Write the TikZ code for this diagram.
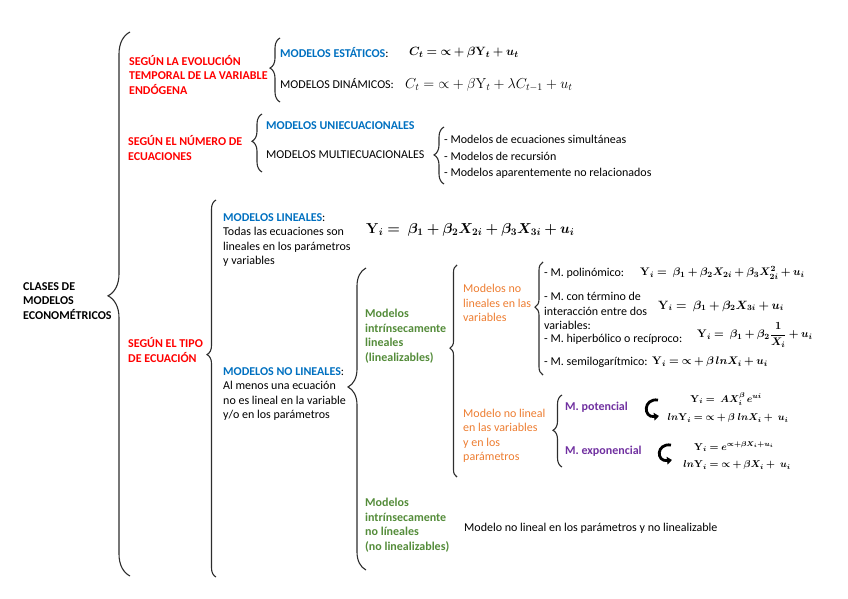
\documentclass[tikz,border=0pt]{standalone}
\usepackage{amsmath,amssymb,bm}
\usepackage[no-math]{fontspec}
\setmainfont{Carlito}
\usetikzlibrary{decorations.pathreplacing,arrows.meta}
\definecolor{critred}{RGB}{255,0,0}
\definecolor{headblue}{RGB}{0,112,192}
\definecolor{subgreen}{RGB}{84,140,58}
\definecolor{varorange}{RGB}{237,125,49}
\definecolor{funpurple}{RGB}{112,48,160}
\definecolor{bracegray}{RGB}{45,45,45}
\newcommand{\txtsize}{\fontsize{12}{14.5}\selectfont}

\begin{document}
\begin{tikzpicture}[
      x=1pt,y=-1pt,
      every node/.style={inner sep=0pt,anchor=west,align=left,font=\txtsize},
      crit/.style={text=critred,font=\txtsize\bfseries},
      head/.style={text=headblue,font=\txtsize\bfseries},
      sub/.style={text=subgreen,font=\txtsize\bfseries},
      var/.style={text=varorange,font=\txtsize},
      fun/.style={text=funpurple,font=\txtsize\bfseries},
      eqn/.style={font=\fontsize{11}{13}\selectfont},
      bigeq/.style={font=\fontsize{13}{15}\selectfont},
      smalleq/.style={anchor=center,font=\fontsize{10}{11}\selectfont},
      brc/.style 2 args={decorate,decoration={brace,amplitude=#1pt,aspect=#2},
                         draw=bracegray,line width=1.1pt},
      curv/.style={line width=2.8pt,-{Triangle[length=5pt,width=7.5pt]}}
  ]
    \useasboundingbox (0,0) rectangle (848,599);

    % root and criteria
    \node[font=\txtsize\bfseries] (root) at (23,301) {CLASES DE\\MODELOS\\ECONOMÉTRICOS};
    \draw[brc={22}{0.515}] (130,576) -- (130,32);

    \node[crit] (evo) at (129,75) {SEGÚN LA EVOLUCIÓN\\TEMPORAL DE LA VARIABLE\\ENDÓGENA};
    \node[crit] (neq) at (128,148) {SEGÚN EL NÚMERO DE\\ECUACIONES};
    \node[crit] (tipo) at (128,350) {SEGÚN EL TIPO\\DE ECUACIÓN};

    % evolucion temporal
    \draw[brc={10}{0.53}] (280,102) -- (280,38);
    \node[head] (est) at (280,53) {MODELOS ESTÁTICOS{\normalfont\color{black}:}};
    \node[bigeq] (esteq) at (409,53) {$\bm{C_t={\propto}+\beta\mathbf{Y}_t+u_t}$};
    \node (din) at (280,84) {MODELOS DINÁMICOS:};
    \node[font=\fontsize{14.3}{16}\selectfont] (dineq) at (405,85) {$C_t={\propto}+\beta\mathrm{Y}_t+\lambda C_{t-1}+u_t$};

    % numero de ecuaciones
    \draw[brc={10}{0.53}] (262,172) -- (262,114);
    \node[head] (uni) at (266,126) {MODELOS UNIECUACIONALES};
    \node (multi) at (266,155) {MODELOS MULTIECUACIONALES};
    \draw[brc={10}{0.51}] (444,184) -- (444,127);
    \node (sim) at (444,139) {- Modelos de ecuaciones simultáneas};
    \node (rec) at (444,156) {- Modelos de recursión};
    \node (apar) at (444,173) {- Modelos aparentemente no relacionados};

    % tipo de ecuacion
    \draw[brc={9}{0.59}] (216,577) -- (216,200);
    \node (lin) at (223,240) {\textcolor{headblue}{\bfseries MODELOS LINEALES}:\\Todas las ecuaciones son\\lineales en los parámetros\\y variables};
    \node[font=\fontsize{13.6}{15}\selectfont] (lineq) at (366,230) {$\bm{\mathbf{Y}_i=\;\beta_1+\beta_2X_{2i}+\beta_3X_{3i}+u_i}$};
    \node (nolin) at (223,394) {\textcolor{headblue}{\bfseries MODELOS NO LINEALES}:\\Al menos una ecuación\\no es lineal en la variable\\y/o en los parámetros};

    \draw[brc={18}{0.606}] (366,570) -- (366,268);
    \node[sub] (intl) at (365,336) {Modelos\\intrínsecamente\\lineales\\(linealizables)};
    \node[sub] (intnl) at (365,525) {Modelos\\intrínsecamente\\no líneales\\(no linealizables)};
    \node (nlnl) at (464,528) {Modelo no lineal en los parámetros y no linealizable};

    \draw[brc={7}{0.608}] (457,477) -- (457,265);
    \node[var] (nlv) at (463,303) {Modelos no\\lineales en las\\variables};
    \node[var] (nlvp) at (463,436) {Modelo no lineal\\en las variables\\y en los\\parámetros};

    % no lineales en las variables
    \draw[brc={8}{0.60}] (543,375) -- (543,262);
    \node (poli) at (544,273) {- M. polinómico:};
    \node[eqn] (polieq) at (640,273) {$\bm{\mathbf{Y}_i=\;\beta_1+\beta_2X_{2i}+\beta_3X_{2i}^2+u_i}$};
    \node (inter) at (544,311) {- M. con término de\\interacción entre dos\\variables:};
    \node[font=\fontsize{11.5}{13}\selectfont] (intereq) at (658,306) {$\bm{\mathbf{Y}_i=\;\beta_1+\beta_2X_{3i}+u_i}$};
    \node (hip) at (544,339) {- M. hiperbólico o recíproco:};
    \node[eqn] (hipeq) at (697,335) {$\bm{\mathbf{Y}_i=\;\beta_1+\beta_2\dfrac{1}{X_i}+u_i}$};
    \node (semi) at (544,362) {- M. semilogarítmico:};
    \node[eqn] (semieq) at (652,362) {$\bm{\mathbf{Y}_i={\propto}+\beta\,lnX_i+u_i}$};

    % no lineales en variables y parametros
    \draw[brc={9}{0.51}] (562,467) -- (562,395);
    \node[fun] (pot) at (565,407) {M. potencial};
    \node[fun] (expo) at (565,451) {M. exponencial};
    \draw[curv] (658,400) .. controls (643,398) and (643,418) .. (659,416);
    \node[smalleq] (poteq1) at (726,399) {$\bm{\mathbf{Y}_i=\;AX_i^{\beta}\,e^{ui}}$};
    \node[smalleq] (poteq2) at (728,418) {$\bm{ln\mathbf{Y}_i={\propto}+\beta\;lnX_i+\;u_i}$};
    \draw[curv] (671,445) .. controls (656,443) and (656,462) .. (672,460);
    \node[smalleq] (expeq1) at (734,447) {$\bm{\mathbf{Y}_i=e^{\propto+\beta X_i+u_i}}$};
    \node[smalleq] (expeq2) at (737,465) {$\bm{ln\mathbf{Y}_i={\propto}+\beta X_i+\;u_i}$};
  \end{tikzpicture}
\end{document}
